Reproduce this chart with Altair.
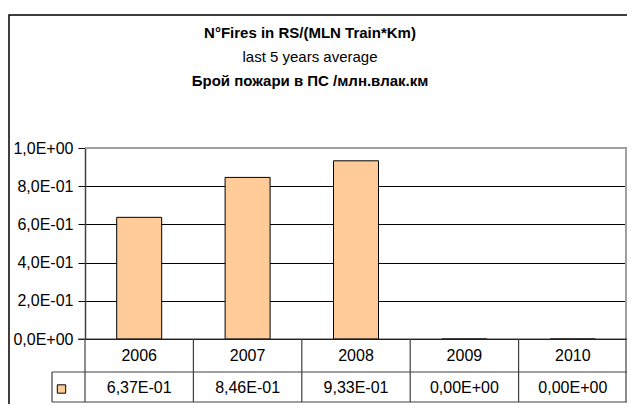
import altair as alt
import pandas as pd

years = ["2006", "2007", "2008", "2009", "2010"]
values = [0.637, 0.846, 0.933, 0.0, 0.0]
title_lines = ["N°Fires in RS/(MLN Train*Km)", "last 5 years average", "Брой пожари в ПС /млн.влак.км"]
y_ticks = [0, 0.2, 0.4, 0.6, 0.8, 1.0]


def excel_sci(v):
    return f"{v:.2E}".replace(".", ",")


df = pd.DataFrame({"year": years, "value": values, "label": [excel_sci(v) for v in values]})
one = pd.DataFrame({"k": [0]})

W, H = 542, 191
FONT = "Liberation Sans"
BAR = "#FFCC99"
LINE = "#404040"
FS = 16

x_enc = alt.X("year:N", sort=years, scale=alt.Scale(paddingInner=0, paddingOuter=0), axis=None)

E = "floor(log(datum.value)/LN10 + 1e-9)"
label_expr = (
    "datum.value == 0 ? '0,0E+00' : "
    f"replace(format(datum.value / pow(10, {E}), '.1f'), '.', ',') + "
    f"({E} >= 0 ? 'E+' : 'E-') + '0' + abs({E})"
)

frame = alt.Chart(one).mark_rect(fillOpacity=0, stroke="black", strokeWidth=1.5).encode(
    x=alt.value(-76), x2=alt.value(700), y=alt.value(-133), y2=alt.value(420)
)

title_y = [-115, -91, -67]
title_bold = ["bold", "normal", "bold"]
titles = [
    alt.Chart(pd.DataFrame({"t": [t]})).mark_text(
        font=FONT, fontSize=15, fontWeight=w, color="black", align="center", baseline="middle"
    ).encode(text="t:N", x=alt.value(225), y=alt.value(yy))
    for t, w, yy in zip(title_lines, title_bold, title_y)
]

bars = alt.Chart(df).mark_bar(size=45, color=BAR, stroke="black", strokeWidth=1).encode(
    x=x_enc,
    y=alt.Y(
        "value:Q",
        scale=alt.Scale(domain=[0, 1], nice=False, zero=True),
        axis=alt.Axis(
            values=y_ticks, title=None, grid=True, gridColor="black", gridWidth=1,
            domainColor="#404040", domainWidth=1.5, tickColor="black", tickSize=7,
            labelFont=FONT, labelFontSize=FS, labelColor="black", labelPadding=5,
            labelExpr=label_expr,
        ),
    ),
)

top_rule = alt.Chart(one).mark_rule(color="#A0A0A0", strokeWidth=2).encode(
    x=alt.value(0), x2=alt.value(W), y=alt.value(0)
)
right_rule = alt.Chart(one).mark_rule(color="#A0A0A0", strokeWidth=2).encode(
    x=alt.value(W - 1), y=alt.value(0), y2=alt.value(191)
)

hlines = [
    alt.Chart(one).mark_rule(color=LINE, strokeWidth=1.2).encode(x=alt.value(x0), x2=alt.value(W), y=alt.value(yy))
    for x0, yy in [(-7, 191), (-33, 224), (-33, 254)]
]
vlines = alt.Chart(df).mark_rule(color=LINE, strokeWidth=1.2).encode(
    x=alt.X("year:N", sort=years, bandPosition=0, axis=None), y=alt.value(191), y2=alt.value(254)
)
vright = alt.Chart(one).mark_rule(color=LINE, strokeWidth=1.2).encode(
    x=alt.value(W - 1), y=alt.value(191), y2=alt.value(254)
)
vleft = alt.Chart(one).mark_rule(color=LINE, strokeWidth=1.2).encode(
    x=alt.value(-33), y=alt.value(224), y2=alt.value(254)
)

year_text = alt.Chart(df).mark_text(font=FONT, fontSize=FS, color="black", baseline="middle").encode(
    x=alt.X("year:N", sort=years, axis=None), y=alt.value(208), text="year:N"
)
val_text = alt.Chart(df).mark_text(font=FONT, fontSize=FS, color="black", baseline="middle").encode(
    x=alt.X("year:N", sort=years, axis=None), y=alt.value(240), text="label:N"
)
legend_sq = alt.Chart(one).mark_point(shape="square", size=70, filled=True, fill=BAR, stroke="black",
                                      strokeWidth=1, opacity=1).encode(
    x=alt.value(-23.5), y=alt.value(241)
)

chart = alt.layer(
    frame, *titles, bars, top_rule, right_rule, *hlines, vlines, vright, vleft,
    year_text, val_text, legend_sq
).properties(
    width=W, height=H,
    autosize=alt.AutoSizeParams(type="none"),
    padding={"left": 77, "top": 140, "right": 0, "bottom": 65},
).configure_view(stroke=None).configure(background="white")

chart.save("out.html", embed_options={"renderer": "svg", "actions": False})
